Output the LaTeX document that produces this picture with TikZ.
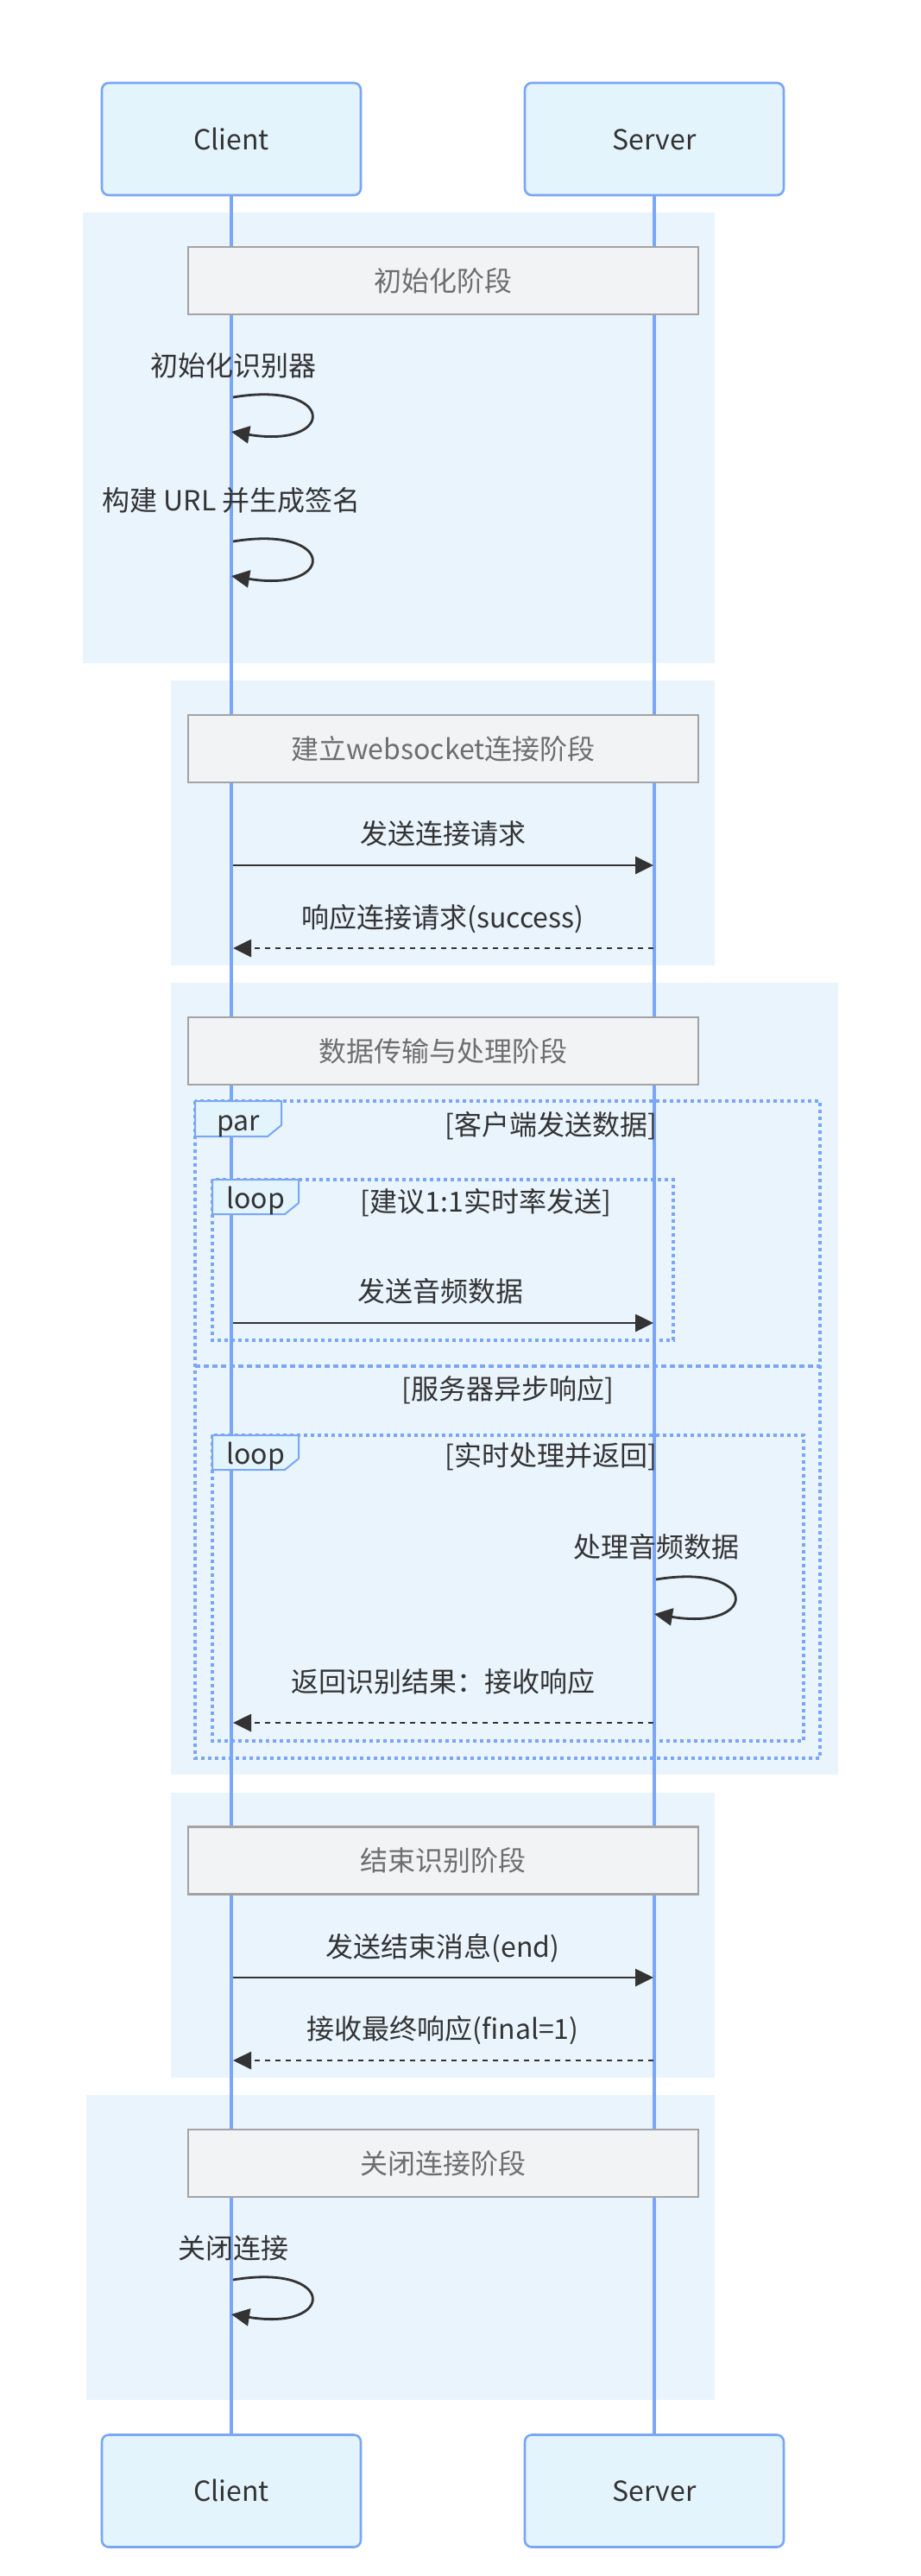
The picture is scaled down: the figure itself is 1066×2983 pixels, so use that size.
\documentclass[tikz,border=0pt]{standalone}
\usepackage{fontspec}
\setmainfont{Noto Sans CJK SC}
\usetikzlibrary{arrows.meta}
\definecolor{actfill}{HTML}{E4F4FD}
\definecolor{actline}{HTML}{79A6F6}
\definecolor{phasebg}{HTML}{EAF4FD}
\definecolor{notefill}{HTML}{F2F3F5}
\definecolor{noteline}{HTML}{A3A3A3}
\definecolor{notetext}{HTML}{6E6E6E}
\definecolor{ink}{HTML}{333333}
\tikzset{
  txt/.style={inner sep=0pt, text height=12.2pt, text depth=0pt, font=\fontsize{16}{19}\selectfont, text=ink},
  actor/.style={txt, draw=actline, line width=1.3pt, fill=actfill, rounded corners=4pt,
    minimum width=150pt, minimum height=65pt},
  notebox/.style={txt, draw=noteline, line width=1.3pt, fill=notefill, text=notetext,
    minimum width=295.5pt, minimum height=39pt},
  life/.style={draw=actline, line width=2pt},
  msg/.style={draw=ink, line width=1.4pt, -{Triangle[length=10.5pt,width=10pt]}},
  reply/.style={msg, dash pattern=on 3pt off 3pt},
  dotbox/.style={draw=actline, line width=2pt, dash pattern=on 2pt off 2pt},
  sepline/.style={draw=actline, line width=2pt, dash pattern=on 3pt off 2pt},
  tabshape/.style={draw=actline, line width=1pt, fill=actfill},
}
\begin{document}
\begin{tikzpicture}[x=0.5pt,y=-0.5pt]
\useasboundingbox (0,0) rectangle (1066,2983);
\fill[white] (0,0) rectangle (1066,2983);
% phase backgrounds
\fill[phasebg] (96,246) rectangle (828,768);
\fill[phasebg] (198,788) rectangle (828,1118);
\fill[phasebg] (198,1138) rectangle (971,2055);
\fill[phasebg] (198,2076) rectangle (828,2406);
\fill[phasebg] (100,2426) rectangle (828,2779);
% actors
\node[actor] (c1) at (268,161) {Client};
\node[actor] (s1) at (758,161) {Server};
\node[actor] (c2) at (268,2884.5) {Client};
\node[actor] (s2) at (758,2884.5) {Server};
% lifelines
\draw[life] (c1.south) -- (c2.north);
\draw[life] (s1.south) -- (s2.north);
% notes
\node[notebox] (n1) at (513.5,325) {初始化阶段};
\node[notebox] (n2) at (513.5,867) {建立websocket连接阶段};
\node[notebox] (n3) at (513.5,1217) {数据传输与处理阶段};
\node[notebox] (n4) at (513.5,2154.5) {结束识别阶段};
\node[notebox] (n5) at (513.5,2505) {关闭连接阶段};
% par / loop frames
\draw[dotbox] (226,1275) rectangle (950,2036);
\draw[sepline] (226,1582) -- (950,1582);
\draw[dotbox] (246,1366) rectangle (780,1552);
\draw[dotbox] (246,1662) rectangle (931,2016);
\draw[tabshape] (226,1275) -- (326,1275) -- (326,1303) -- (310,1316) -- (226,1316) -- cycle;
\draw[tabshape] (246,1366) -- (346,1366) -- (346,1393) -- (330,1406) -- (246,1406) -- cycle;
\draw[tabshape] (246,1662) -- (346,1662) -- (346,1689) -- (330,1702) -- (246,1702) -- cycle;
\node[txt] (tpar) at (276,1297) {par};
\node[txt] (tloop1) at (296,1387) {loop};
\node[txt] (tloop2) at (296,1683) {loop};
\node[txt] (lpar) at (638,1302) {[客户端发送数据]};
\node[txt] (lalt) at (588,1608) {[服务器异步响应]};
\node[txt] (lloop1) at (563,1391) {[建议1:1实时率发送]};
\node[txt] (lloop2) at (638,1685) {[实时处理并返回]};
% self messages
\node[txt] (t1) at (270,423) {初始化识别器};
\coordinate (a1) at (270,460); \coordinate (b1) at (268,500);
\draw[msg] (a1) .. controls (390,440) and (390,520) .. (b1);
\node[txt] (t2) at (268,579) {构建 URL 并生成签名};
\coordinate (a2) at (270,627); \coordinate (b2) at (268,667);
\draw[msg] (a2) .. controls (390,607) and (390,687) .. (b2);
\node[txt] (t7) at (760,1791) {处理音频数据};
\coordinate (a7) at (760,1829); \coordinate (b7) at (758,1869);
\draw[msg] (a7) .. controls (880,1809) and (880,1889) .. (b7);
\node[txt] (t10) at (270,2603) {关闭连接};
\coordinate (a10) at (270,2640); \coordinate (b10) at (268,2680);
\draw[msg] (a10) .. controls (390,2620) and (390,2700) .. (b10);
% messages
\node[txt] (t3) at (513,965) {发送连接请求};
\coordinate (a3) at (270,1002); \coordinate (b3) at (757,1002);
\draw[msg] (a3) -- (b3);
\node[txt] (t4) at (513,1062) {响应连接请求(success)};
\coordinate (a4) at (757,1098); \coordinate (b4) at (270,1098);
\draw[reply] (a4) -- (b4);
\node[txt] (t5) at (510,1495) {发送音频数据};
\coordinate (a5) at (270,1532); \coordinate (b5) at (757,1532);
\draw[msg] (a5) -- (b5);
\node[txt] (t6) at (513,1947) {返回识别结果：接收响应};
\coordinate (a6) at (757,1995); \coordinate (b6) at (270,1995);
\draw[reply] (a6) -- (b6);
\node[txt] (t8) at (513,2254) {发送结束消息(end)};
\coordinate (a8) at (270,2290); \coordinate (b8) at (757,2290);
\draw[msg] (a8) -- (b8);
\node[txt] (t9) at (513,2349) {接收最终响应(final=1)};
\coordinate (a9) at (757,2386); \coordinate (b9) at (270,2386);
\draw[reply] (a9) -- (b9);
\end{tikzpicture}
\end{document}
